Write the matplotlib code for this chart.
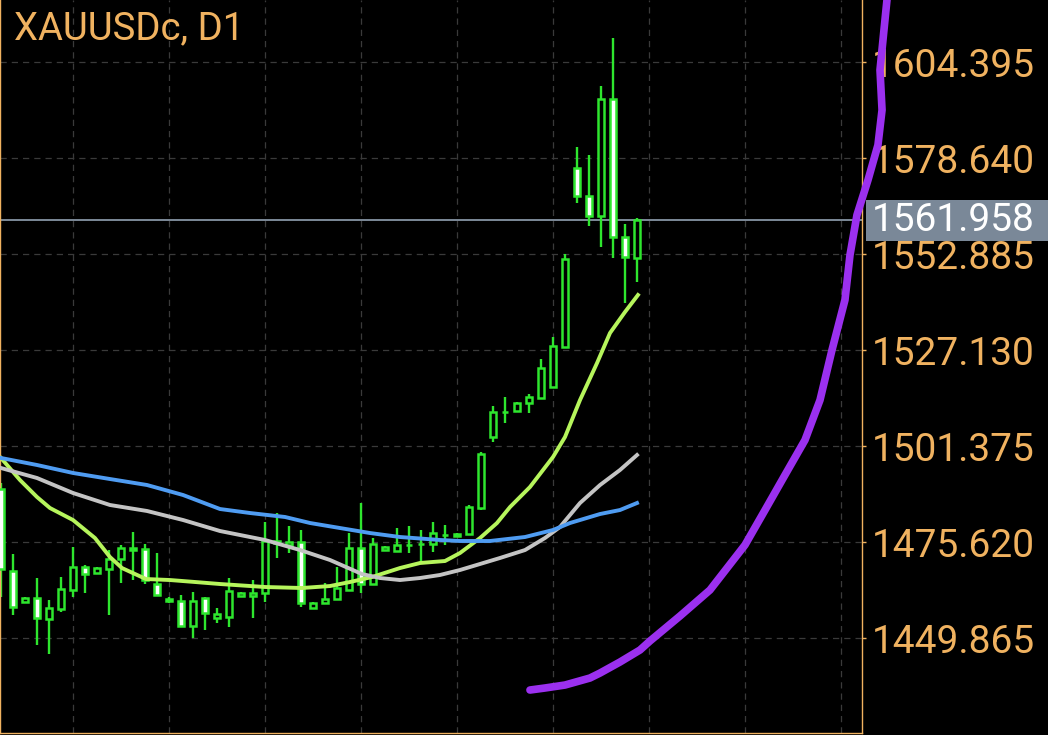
import matplotlib
matplotlib.use('Agg')
import matplotlib.pyplot as plt
import numpy as np
from matplotlib.patches import Rectangle

plt.rcParams['font.family'] = ['Roboto', 'DejaVu Sans']

# daily candles, XAUUSDc D1
opens = [1489.84, 1467.84, 1459.52, 1460.59, 1454.96, 1457.65, 1462.74, 1468.91, 1467.30, 1468.38,
         1471.06, 1473.60, 1473.74, 1464.35, 1460.20, 1459.79, 1453.08, 1460.59, 1455.23, 1455.50,
         1461.13, 1461.13, 1461.94, 1475.35, 1474.82, 1475.62, 1457.91, 1459.26, 1460.33, 1462.74,
         1474.01, 1464.35, 1473.47, 1473.20, 1474.70, 1475.00, 1475.08, 1477.40, 1477.23, 1477.77,
         1484.74, 1503.79, 1510.40, 1510.76, 1512.91, 1514.25, 1517.20, 1527.94, 1575.96, 1568.45,
         1563.08, 1594.47, 1557.45, 1551.81]
highs = [1491.45, 1472.40, 1460.86, 1465.96, 1460.06, 1466.23, 1474.28, 1469.45, 1469.00, 1473.47,
         1474.82, 1478.31, 1475.08, 1472.67, 1460.86, 1461.40, 1462.20, 1460.86, 1457.91, 1465.96,
         1462.20, 1465.42, 1480.98, 1483.40, 1479.91, 1478.84, 1459.52, 1464.62, 1468.91, 1478.04,
         1486.08, 1476.69, 1474.50, 1479.37, 1479.91, 1478.84, 1480.98, 1480.18, 1478.00, 1485.55,
         1499.77, 1512.11, 1514.52, 1513.20, 1515.33, 1524.71, 1530.62, 1552.88, 1581.59, 1579.45,
         1597.96, 1610.83, 1560.93, 1562.54]
lows = [1460.86, 1456.04, 1459.26, 1447.99, 1445.57, 1456.84, 1460.86, 1461.94, 1467.00, 1456.04,
        1464.62, 1465.42, 1464.35, 1461.13, 1459.26, 1452.81, 1449.86, 1452.01, 1453.89, 1452.81,
        1460.86, 1455.23, 1459.52, 1471.33, 1472.67, 1458.19, 1457.65, 1458.99, 1460.06, 1462.47,
        1461.94, 1464.08, 1473.20, 1473.10, 1472.67, 1470.26, 1472.94, 1474.82, 1477.00, 1477.50,
        1484.20, 1502.45, 1507.55, 1510.50, 1510.23, 1513.98, 1516.93, 1527.67, 1566.57, 1560.40,
        1554.76, 1551.81, 1539.74, 1545.37]
closes = [1468.38, 1458.19, 1460.59, 1455.23, 1457.91, 1463.01, 1468.91, 1467.03, 1468.64, 1471.06,
          1474.01, 1473.90, 1465.42, 1461.40, 1459.90, 1453.08, 1459.79, 1456.57, 1456.30, 1462.47,
          1461.94, 1461.94, 1475.89, 1475.89, 1475.62, 1459.26, 1459.26, 1460.33, 1463.28, 1474.01,
          1464.35, 1475.08, 1474.28, 1474.82, 1474.90, 1475.20, 1478.04, 1477.60, 1477.77, 1485.01,
          1499.23, 1510.50, 1510.50, 1512.91, 1514.52, 1522.30, 1528.20, 1551.54, 1568.45, 1563.08,
          1594.47, 1557.45, 1552.08, 1561.958]

# moving averages (bar index, price)
ma_fast_x = [0, 1.58, 3, 4.08, 6, 7.83, 9.08, 10.08, 12.08, 14.08, 16.17, 18.25, 22, 25.08, 27.42,
             29.08, 30.92, 33.25, 34.92, 37, 38.25, 39.92, 41.33, 42.42, 44.08, 46, 47, 48.25,
             49.67, 50.75, 52, 53.08]
ma_fast_y = [1498.16, 1492.25, 1487.69, 1484.74, 1481.52, 1476.69, 1471.59, 1468.64, 1465.69, 1465.42,
             1464.89, 1464.35, 1463.55, 1463.28, 1463.81, 1464.89, 1466.23, 1468.64, 1469.99, 1470.52,
             1472.67, 1476.69, 1480.71, 1485.01, 1490.37, 1498.43, 1503.79, 1513.70, 1523.64,
             1531.69, 1537.33, 1541.89]
ma_mid_x = [0, 3, 6, 9.08, 12.17, 15.17, 18.25, 22, 24.92, 27.42, 30.08, 31.58, 33.25, 34.92, 36.58,
            38.25, 41.58, 43.67, 45.33, 46.58, 48.25, 49.92, 51.58, 53]
ma_mid_y = [1495.47, 1492.79, 1488.77, 1485.55, 1483.94, 1481.52, 1478.57, 1476.16, 1473.47, 1470.79,
            1467.03, 1465.96, 1465.42, 1465.96, 1466.77, 1468.11, 1471.33, 1473.47, 1476.69, 1479.64,
            1486.08, 1490.91, 1494.93, 1498.96]
ma_slow_x = [0, 3, 6, 9.08, 12.17, 15.17, 18.25, 20.75, 23.67, 25.75, 28.25, 30.75, 33.25, 36.58,
             38.25, 40.75, 43.67, 46, 47.42, 49.92, 51.58, 53]
ma_slow_y = [1498.16, 1496.28, 1494.14, 1492.52, 1490.91, 1488.23, 1484.47, 1483.40, 1482.33, 1480.72,
             1479.37, 1478.03, 1476.96, 1476.16, 1475.89, 1475.89, 1476.96, 1478.84, 1480.72, 1483.13,
             1484.20, 1486.08]

# purple curve
pur_x = [44.08, 45.33, 47, 49.08, 49.92, 51.58, 53.25, 54.08, 56.58, 59.08, 62, 63.67, 65.33, 67,
         68.25, 69.25, 70.33, 70.75, 71.33, 72.25, 73.08, 73.42, 73.25, 73.58, 73.83]
pur_y = [1435.91, 1436.45, 1437.25, 1439.13, 1440.47, 1443.42, 1446.65, 1449.06, 1455.76, 1462.74,
         1474.82, 1484.20, 1493.59, 1502.98, 1513.70, 1527.13, 1540.54, 1552.62, 1563.35, 1572.74,
         1582.13, 1591.52, 1602.25, 1612.98, 1621.03]

price_ticks = [1449.865, 1475.620, 1501.375, 1527.130, 1552.885, 1578.640, 1604.395]
last_price = 1561.958
title = 'XAUUSDc, D1'

green = '#2ee62e'
orange = '#f0b260'

fig = plt.figure(figsize=(10.48, 7.35), dpi=100, facecolor='black')
ax = fig.add_axes([0, 2 / 735, 862 / 1048, 733 / 735])
ax.set_facecolor('black')

o = np.array(opens)
c = np.array(closes)
h = np.array(highs)
l = np.array(lows)
x = np.arange(len(o))
bull = c >= o

ax.axhline(last_price, color='#8795a5', lw=1.3, zorder=1)

ax.vlines(x, l, h, color=green, lw=1.7, zorder=2)
fills = np.where(bull, 'black', 'white')
ax.bar(x, np.abs(c - o), bottom=np.minimum(o, c), width=0.58, color=fills,
       edgecolor=green, linewidth=1.8, zorder=3)

ax.plot(ma_fast_x, ma_fast_y, color='#b6f55c', lw=2.8, zorder=4)
ax.plot(ma_mid_x, ma_mid_y, color='#c4c4c4', lw=2.8, zorder=4)
ax.plot(ma_slow_x, ma_slow_y, color='#4f9cf2', lw=2.8, zorder=4)

ax.plot(pur_x, pur_y, color='#9b30ef', lw=5.5, clip_on=False, solid_capstyle='round', zorder=6)

ax.set_xlim(-1 / 12, 861 / 12)
ax.set_ylim(1424.38, 1621.03)

ax.set_xticks(np.arange(6, 72, 8))
ax.tick_params(axis='x', length=0, labelbottom=False)
ax.yaxis.tick_right()
ax.set_yticks(price_ticks)
ax.set_yticklabels(['%.3f' % v for v in price_ticks])
ax.tick_params(axis='y', colors=orange, labelcolor=orange, length=3, width=1, pad=4, labelsize=28)
ax.grid(True, color='#3a3a3a', linestyle=(0, (5, 4)), lw=0.9)
ax.set_axisbelow(True)

ax.spines['top'].set_visible(False)
for side in ['left', 'right', 'bottom']:
    ax.spines[side].set_color(orange)
    ax.spines[side].set_linewidth(1)

# current price box
box_h = 11.0
ax.add_patch(Rectangle((866 / 862, last_price - box_h / 2), 0.215, box_h,
                       transform=ax.get_yaxis_transform(), clip_on=False,
                       facecolor='#7a8898', edgecolor='none', zorder=5))
ax.text(872 / 862, last_price, '%.3f' % last_price, transform=ax.get_yaxis_transform(),
        color='white', fontsize=28, va='center', ha='left',
        clip_on=False, zorder=5.5)

ax.text(14 / 862, 0.986, title, transform=ax.transAxes, color=orange, fontsize=27.5,
        va='top', ha='left')

fig.savefig('out.png', dpi=100, facecolor='black')
